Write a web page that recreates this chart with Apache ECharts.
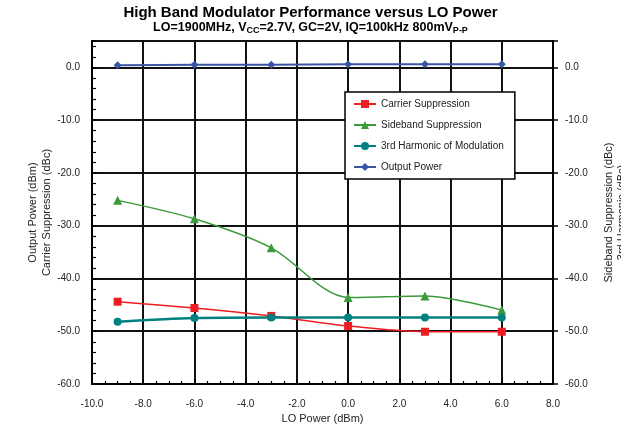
<!DOCTYPE html>
<html>
<head>
<meta charset="utf-8">
<script src="https://cdn.jsdelivr.net/npm/echarts@6/dist/echarts.min.js"></script>
<style>html,body{margin:0;padding:0;background:#fff;}#c{width:621px;height:434px;}</style>
</head>
<body>
<div id="c"></div>
<script>
const loPower = [-9, -6, -3, 0, 3, 6];
const carrierSuppression = [-44.4, -45.6, -47.1, -49.0, -50.1, -50.1];
const sidebandSuppression = [-25.2, -28.7, -34.2, -43.6, -43.3, -46.0];
const thirdHarmonic = [-48.2, -47.5, -47.4, -47.4, -47.4, -47.4];
const outputPower = [0.4, 0.5, 0.5, 0.6, 0.6, 0.6];

const pairs = arr => loPower.map((x, i) => [x, arr[i]]);
const FONT = '"Liberation Sans", Arial, sans-serif';

const chart = echarts.init(document.getElementById('c'), null, {renderer: 'canvas'});
const yLabelFmt = v => (v > 0 ? '' : v.toFixed(1));

chart.setOption({
  animation: false,
  backgroundColor: '#fff',
  title: {
    left: 'center', top: 0, itemGap: 1,
    text: 'High Band Modulator Performance versus LO Power',
    textStyle: {fontFamily: FONT, fontSize: 15, fontWeight: 'bold', color: '#000'},
    subtext: '{b|LO=1900MHz, V}{s|CC}{b|=2.7V, GC=2V, IQ=100kHz 800mV}{s|P-P}',
    subtextStyle: {
      rich: {
        b: {fontFamily: FONT, fontSize: 12.5, fontWeight: 'bold', color: '#000'},
        s: {fontFamily: FONT, fontSize: 9, fontWeight: 'bold', color: '#000', verticalAlign: 'bottom', padding: [5, 0, 0, 0]}
      }
    }
  },
  grid: {left: 92, right: 68, top: 41, bottom: 50, show: true, borderColor: '#000', borderWidth: 2, outerBoundsMode: 'none', containLabel: false},
  legend: {
    orient: 'vertical', left: 345, top: 92, itemGap: 11, itemWidth: 22, itemHeight: 10,
    backgroundColor: '#fff', borderColor: '#000', borderWidth: 1.5,
    padding: [7, 11, 7, 8],
    textStyle: {fontFamily: FONT, fontSize: 10, color: '#222'},
    data: ['Carrier Suppression', 'Sideband Suppression', '3rd Harmonic of Modulation', 'Output Power']
  },
  xAxis: {
    type: 'value', min: -10, max: 8, interval: 2,
    name: 'LO Power (dBm)', nameLocation: 'middle', nameGap: 28,
    nameTextStyle: {fontFamily: FONT, fontSize: 11, color: '#222'},
    axisLine: {onZero: false, lineStyle: {color: '#000', width: 2}},
    axisTick: {inside: true, length: 5, lineStyle: {color: '#000', width: 1.5}},
    minorTick: {show: true, splitNumber: 4, length: 3, lineStyle: {color: '#000', width: 1.2}},
    axisLabel: {fontFamily: FONT, fontSize: 10, color: '#222', margin: 15, formatter: v => v.toFixed(1)},
    splitLine: {show: true, lineStyle: {color: '#111', width: 2}}
  },
  yAxis: [{
    type: 'value', min: -60, max: 5, interval: 10,
    name: 'Output Power (dBm)\nCarrier Suppression (dBc)', nameLocation: 'middle', nameGap: 38, nameRotate: 90,
    nameMoveOverlap: false,
    nameTextStyle: {fontFamily: FONT, fontSize: 11, color: '#222', lineHeight: 14},
    axisLine: {show: true, onZero: false, lineStyle: {color: '#000', width: 2}},
    axisTick: {show: true, inside: true, length: 5, lineStyle: {color: '#000', width: 1.5}},
    minorTick: {show: true, splitNumber: 5, length: 4, lineStyle: {color: '#000', width: 1.2}},
    axisLabel: {fontFamily: FONT, fontSize: 10, color: '#222', margin: 12, formatter: yLabelFmt},
    splitLine: {show: true, lineStyle: {color: '#111', width: 2}}
  }, {
    type: 'value', min: -60, max: 5, interval: 10, position: 'right',
    name: 'Sideband Suppression (dBc)\n3rd Harmonic (dBc)', nameLocation: 'middle', nameGap: 49, nameRotate: 90,
    nameTextStyle: {fontFamily: FONT, fontSize: 11, color: '#222', lineHeight: 13},
    axisLine: {show: true, onZero: false, lineStyle: {color: '#000', width: 2}},
    axisTick: {show: true, inside: false, length: 5, lineStyle: {color: '#000', width: 1.5}},
    axisLabel: {fontFamily: FONT, fontSize: 10, color: '#222', margin: 12, formatter: yLabelFmt},
    splitLine: {show: false}
  }],
  series: [{
    name: 'Carrier Suppression', type: 'line', smooth: 0.3, data: pairs(carrierSuppression),
    symbol: 'rect', symbolSize: 8, itemStyle: {color: '#ee1c24'}, lineStyle: {width: 1.5, color: '#ee1c24'}
  }, {
    name: 'Sideband Suppression', type: 'line', smooth: 0.3, yAxisIndex: 1, data: pairs(sidebandSuppression),
    symbol: 'triangle', symbolSize: 9, itemStyle: {color: '#3a9a3a'}, lineStyle: {width: 1.5, color: '#3a9a3a'}
  }, {
    name: '3rd Harmonic of Modulation', type: 'line', smooth: 0.3, yAxisIndex: 1, data: pairs(thirdHarmonic),
    symbol: 'circle', symbolSize: 8, itemStyle: {color: '#008080'}, lineStyle: {width: 2.5, color: '#008080'}
  }, {
    name: 'Output Power', type: 'line', smooth: 0.3, data: pairs(outputPower),
    symbol: 'diamond', symbolSize: 8, itemStyle: {color: '#3a55a4'}, lineStyle: {width: 2, color: '#3a55a4'}
  }]
});
</script>
</body>
</html>
